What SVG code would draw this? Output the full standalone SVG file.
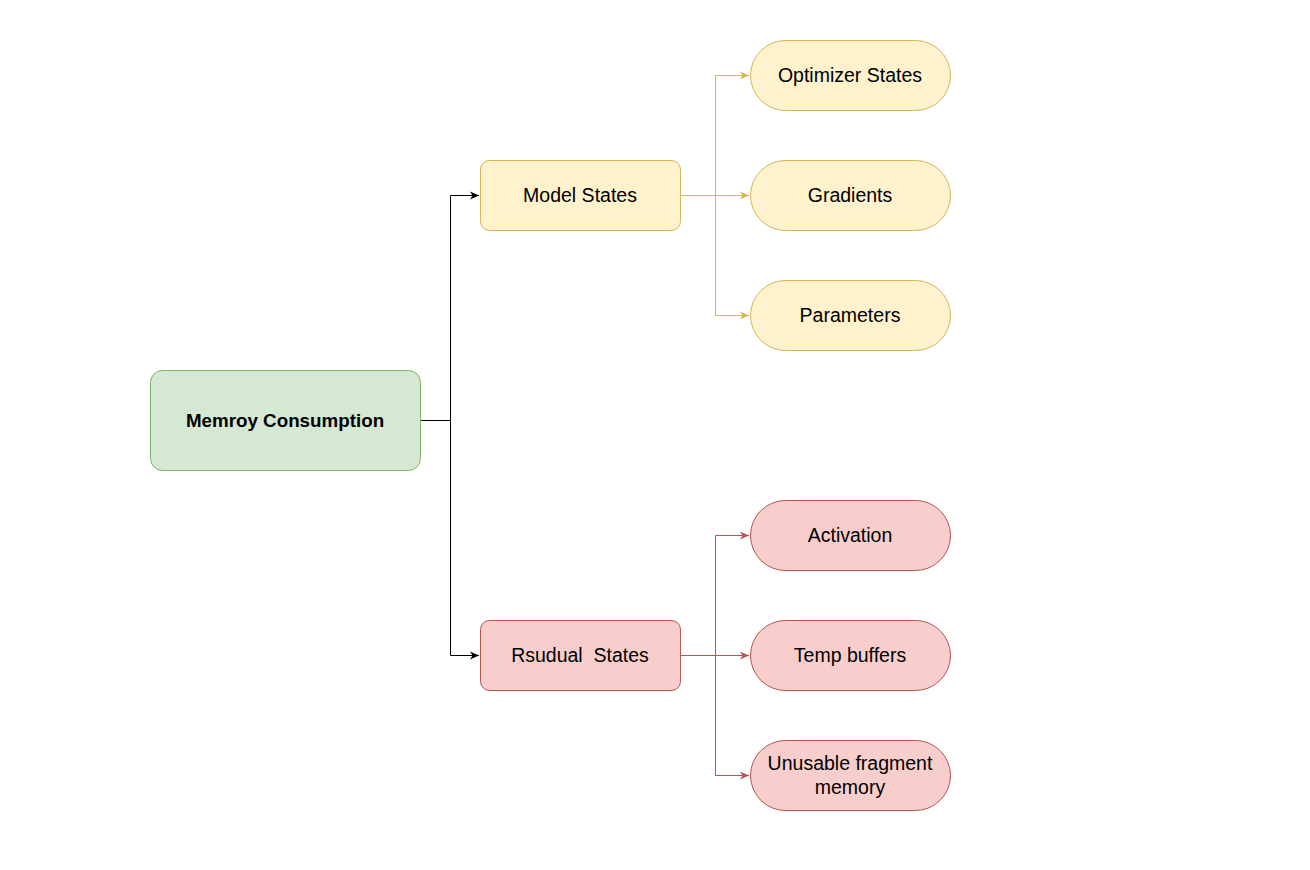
<svg xmlns="http://www.w3.org/2000/svg" width="1310" height="870" viewBox="0 0 1310 870">
<style>
.t{font-family:"Liberation Sans",Arial,sans-serif;font-size:19.5px;fill:#000;text-anchor:middle;dominant-baseline:central}
.b{font-weight:bold;font-size:18.8px}
.y{fill:#fff2cc;stroke:#d6b656;stroke-width:1}
.r{fill:#f8cecc;stroke:#b85450;stroke-width:1}
.g{fill:#d5e8d4;stroke:#82b366;stroke-width:1}
.e{fill:none;stroke-width:1}
</style>
<defs>
<marker id="ak" markerWidth="12" markerHeight="12" refX="10" refY="6" orient="auto" markerUnits="userSpaceOnUse"><path d="M1,2 L10,6 L1,10 L3.5,6 Z" fill="#000"/></marker>
<marker id="ay" markerWidth="12" markerHeight="12" refX="10" refY="6" orient="auto" markerUnits="userSpaceOnUse"><path d="M1,2 L10,6 L1,10 L3.5,6 Z" fill="#d6b656"/></marker>
<marker id="ar" markerWidth="12" markerHeight="12" refX="10" refY="6" orient="auto" markerUnits="userSpaceOnUse"><path d="M1,2 L10,6 L1,10 L3.5,6 Z" fill="#b85450"/></marker>
</defs>
<rect width="1310" height="870" fill="#fff"/>
<g id="connectors">
<path class="e" stroke="#000" d="M420,420.5 H450.5 V195.5 H479" marker-end="url(#ak)"/>
<path class="e" stroke="#000" d="M450.5,420.5 V655.5 H479" marker-end="url(#ak)"/>
<path class="e" stroke="#d6b656" d="M680,195.5 H749" marker-end="url(#ay)"/>
<path class="e" stroke="#d6b656" d="M715.5,195.5 V75.5 H749" marker-end="url(#ay)"/>
<path class="e" stroke="#d6b656" d="M715.5,195.5 V315.5 H749" marker-end="url(#ay)"/>
<path class="e" stroke="#b85450" d="M680,655.5 H749" marker-end="url(#ar)"/>
<path class="e" stroke="#b85450" d="M715.5,655.5 V535.5 H749" marker-end="url(#ar)"/>
<path class="e" stroke="#b85450" d="M715.5,655.5 V775.5 H749" marker-end="url(#ar)"/>
</g>
<g id="root"><rect class="g" x="150.5" y="370.5" width="270" height="100" rx="12"/><text class="t b" x="285" y="420">Memroy Consumption</text></g>
<g id="model"><rect class="y" x="480.5" y="160.5" width="200" height="70" rx="9"/><text class="t" x="580" y="195">Model States</text></g>
<g id="residual"><rect class="r" x="480.5" y="620.5" width="200" height="70" rx="9"/><text class="t" x="580" y="655" xml:space="preserve">Rsudual  States</text></g>
<g id="optimizer"><rect class="y" x="750.5" y="40.5" width="200" height="70" rx="35"/><text class="t" x="850" y="75">Optimizer States</text></g>
<g id="gradients"><rect class="y" x="750.5" y="160.5" width="200" height="70" rx="35"/><text class="t" x="850" y="195">Gradients</text></g>
<g id="parameters"><rect class="y" x="750.5" y="280.5" width="200" height="70" rx="35"/><text class="t" x="850" y="315">Parameters</text></g>
<g id="activation"><rect class="r" x="750.5" y="500.5" width="200" height="70" rx="35"/><text class="t" x="850" y="535">Activation</text></g>
<g id="temp"><rect class="r" x="750.5" y="620.5" width="200" height="70" rx="35"/><text class="t" x="850" y="655">Temp buffers</text></g>
<g id="unusable"><rect class="r" x="750.5" y="740.5" width="200" height="70" rx="35"/><text class="t" x="850" y="763">Unusable fragment</text><text class="t" x="850" y="787">memory</text></g>
</svg>
